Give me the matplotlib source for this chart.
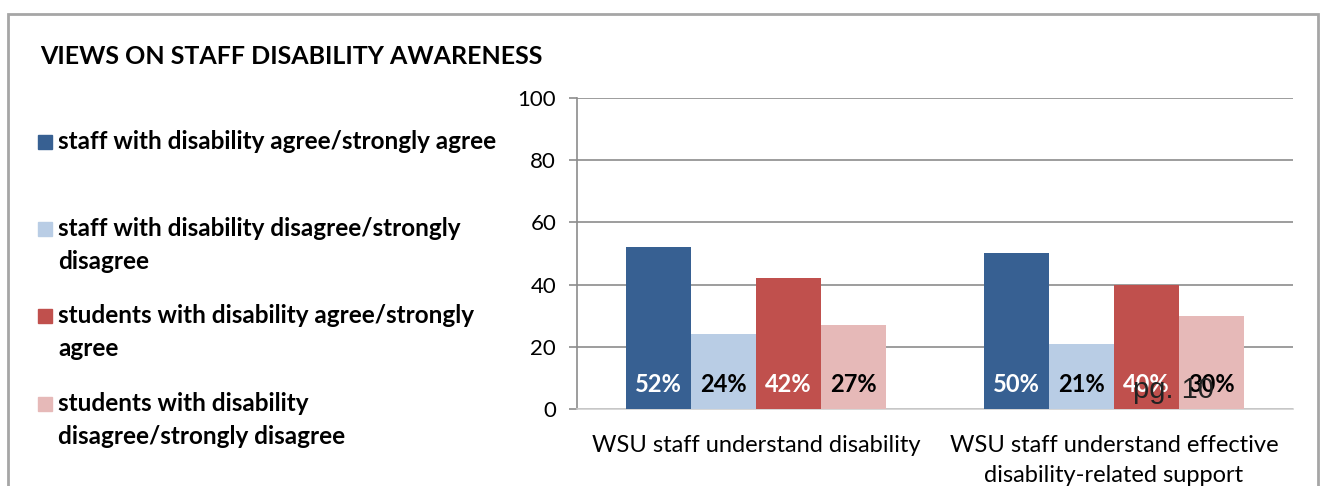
import matplotlib.pyplot as plt
import matplotlib.patches as mpatches
import numpy as np

plt.rcParams['font.family'] = ['Lato', 'DejaVu Sans']

categories = ['WSU staff understand disability',
              'WSU staff understand effective\ndisability-related support']
series_names = ['staff with disability agree/strongly agree',
                'staff with disability disagree/strongly\ndisagree',
                'students with disability agree/strongly\nagree',
                'students with disability\ndisagree/strongly disagree']
values = [[52, 50],
          [24, 21],
          [42, 40],
          [27, 30]]
colors = ['#376092', '#B9CDE5', '#C0504D', '#E6B9B8']
label_colors = ['white', 'black', 'white', 'black']
yticks = [0, 20, 40, 60, 80, 100]

fig = plt.figure(figsize=(13.25, 4.86), dpi=100)
ax = fig.add_axes([0.4355, 0.1584, 0.5404, 0.64])

x = np.arange(len(categories))
w = 0.182
for i, (name, vals) in enumerate(zip(series_names, values)):
    pos = x + (i - 1.5) * w
    ax.bar(pos, vals, width=w, color=colors[i], zorder=3)
    for p, v in zip(pos, vals):
        ax.text(p, 7.8, f'{v}%', ha='center', va='center', fontsize=17,
                fontweight='bold', color=label_colors[i], zorder=4)

ax.set_xlim(-0.5, 1.5)
ax.set_ylim(0, 100)
ax.set_yticks(yticks)
ax.set_xticks(x)
ax.set_xticklabels(categories, fontsize=17, linespacing=1.5)
ax.tick_params(axis='x', length=0, pad=19)
ax.tick_params(axis='y', length=6, width=1.2, color='#8c8c8c', labelsize=16, pad=9)
ax.yaxis.grid(True, color='#8c8c8c', linewidth=1.2, zorder=0)
for s in ['top', 'right']:
    ax.spines[s].set_visible(False)
ax.spines['left'].set_color('#8c8c8c')
ax.spines['left'].set_linewidth(1.2)
ax.spines['bottom'].set_color('#d0d0d0')
ax.spines['bottom'].set_linewidth(1.2)

# title
fig.text(40 / 1325, 1 - 57 / 486, 'VIEWS ON STAFF DISABILITY AWARENESS',
         fontsize=18, fontweight='bold', va='center', ha='left')

# legend, drawn by hand like the Excel layout
leg_y = [142, 229, 316, 404]
for i, name in enumerate(series_names):
    yc = 1 - leg_y[i] / 486
    fig.patches.append(mpatches.Rectangle((38 / 1325, yc - 7 / 486), 14 / 1325, 14 / 486,
                                          transform=fig.transFigure, color=colors[i]))
    fig.text(58 / 1325, yc + 12 / 486, name, fontsize=17.5, fontweight='bold',
             va='top', ha='left', linespacing=1.5)

# page number overlay
fig.text(1133 / 1325, 1 - 390 / 486, 'pg. 10', fontsize=21, family='Liberation Sans',
         color='#222222', va='center', ha='left')

# outer border
fig.patches.append(mpatches.Rectangle((8 / 1325, -0.05), 1310 / 1325, 1 - 14 / 486 + 0.05,
                                      transform=fig.transFigure, fill=False,
                                      edgecolor='#a6a6a6', linewidth=2))

fig.savefig('out.png', dpi=100)
